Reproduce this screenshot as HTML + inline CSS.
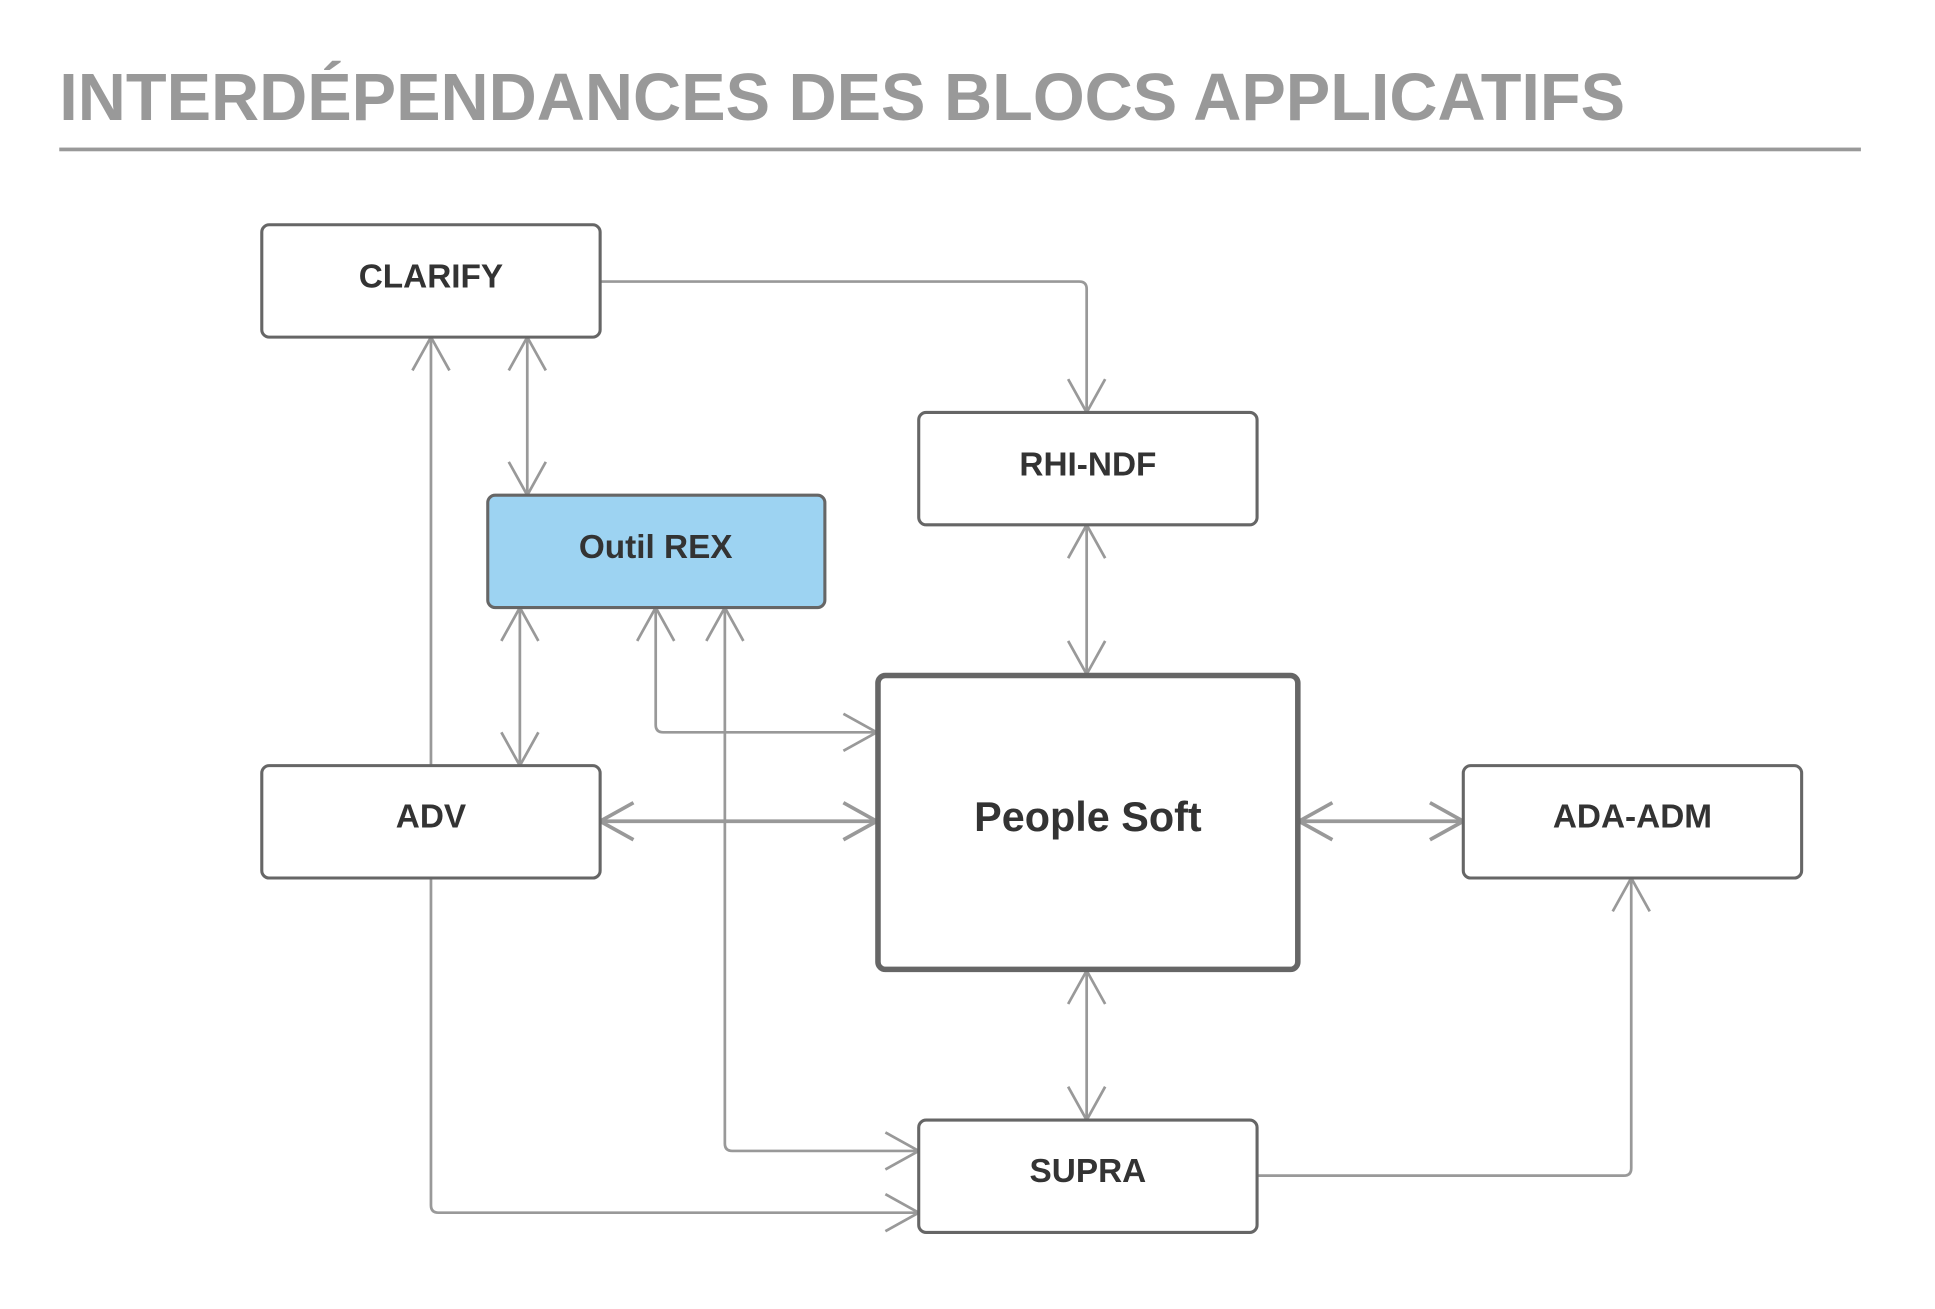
<!DOCTYPE html>
<html><head><meta charset="utf-8"><style>
html,body{margin:0;padding:0;background:#fff;}
svg{display:block;}
</style></head><body>
<svg width="1935" height="1309" viewBox="0 0 1567 1060" preserveAspectRatio="none" xmlns="http://www.w3.org/2000/svg">
<text x="48" y="97" font-family="Liberation Sans, sans-serif" font-weight="bold" font-size="54" fill="#999" textLength="1268" lengthAdjust="spacingAndGlyphs">INTERDÉPENDANCES DES BLOCS APPLICATIFS</text>
<rect x="48" y="119.5" width="1459" height="3" fill="#999"/>
<g fill="none" stroke="#999" stroke-width="2.2" stroke-linejoin="round">
<path d="M482 228 H874 Q880 228 880 234 V334"/>
<path d="M865 307 L880 334 L895 307"/>
<path d="M349 620 V273"/>
<path d="M334 300 L349 273 L364 300"/>
<path d="M427 273 V401"/>
<path d="M412 300 L427 273 L442 300"/>
<path d="M412 374 L427 401 L442 374"/>
<path d="M421 492 V620"/>
<path d="M406 519 L421 492 L436 519"/>
<path d="M406 593 L421 620 L436 593"/>
<path d="M531 492 V587 Q531 593 537 593 H710"/>
<path d="M516 519 L531 492 L546 519"/>
<path d="M683 578 L710 593 L683 608"/>
<path d="M587 492 V926 Q587 932 593 932 H744"/>
<path d="M572 519 L587 492 L602 519"/>
<path d="M717 917 L744 932 L717 947"/>
<path d="M880 425 V546"/>
<path d="M865 452 L880 425 L895 452"/>
<path d="M865 519 L880 546 L895 519"/>
<path d="M880 786 V907"/>
<path d="M865 813 L880 786 L895 813"/>
<path d="M865 880 L880 907 L895 880"/>
<path d="M349 706 V976 Q349 982 355 982 H744"/>
<path d="M717 967 L744 982 L717 997"/>
<path d="M1014 952 H1315 Q1321 952 1321 946 V711"/>
<path d="M1306 738 L1321 711 L1336 738"/>
</g>
<g fill="none" stroke="#999" stroke-width="3" stroke-linejoin="round">
<path d="M486 665 H710"/>
<path d="M513 650 L486 665 L513 680"/>
<path d="M683 650 L710 665 L683 680"/>
<path d="M1052 665 H1185"/>
<path d="M1079 650 L1052 665 L1079 680"/>
<path d="M1158 650 L1185 665 L1158 680"/>
</g>
<g stroke="#666" stroke-width="2.5" fill="#fff">
<rect x="212" y="182" width="274" height="91" rx="6"/>
<rect x="744" y="334" width="274" height="91" rx="6"/>
<rect x="395" y="401" width="273" height="91" rx="6" fill="#9dd3f2"/>
<rect x="212" y="620" width="274" height="91" rx="6"/>
<rect x="1185" y="620" width="274" height="91" rx="6"/>
<rect x="744" y="907" width="274" height="91" rx="6"/>
<rect x="711" y="547" width="340" height="238" rx="6" stroke-width="4.5"/>
</g>
<g font-family="Liberation Sans, sans-serif" font-weight="bold" fill="#333" text-anchor="middle" font-size="27">
<text x="349" y="233">CLARIFY</text>
<text x="881" y="385">RHI-NDF</text>
<text x="531" y="452">Outil REX</text>
<text x="349" y="670">ADV</text>
<text x="1322" y="670">ADA-ADM</text>
<text x="881" y="957">SUPRA</text>
<text x="881" y="673" font-size="33.5">People Soft</text>
</g>
</svg>
</body></html>
